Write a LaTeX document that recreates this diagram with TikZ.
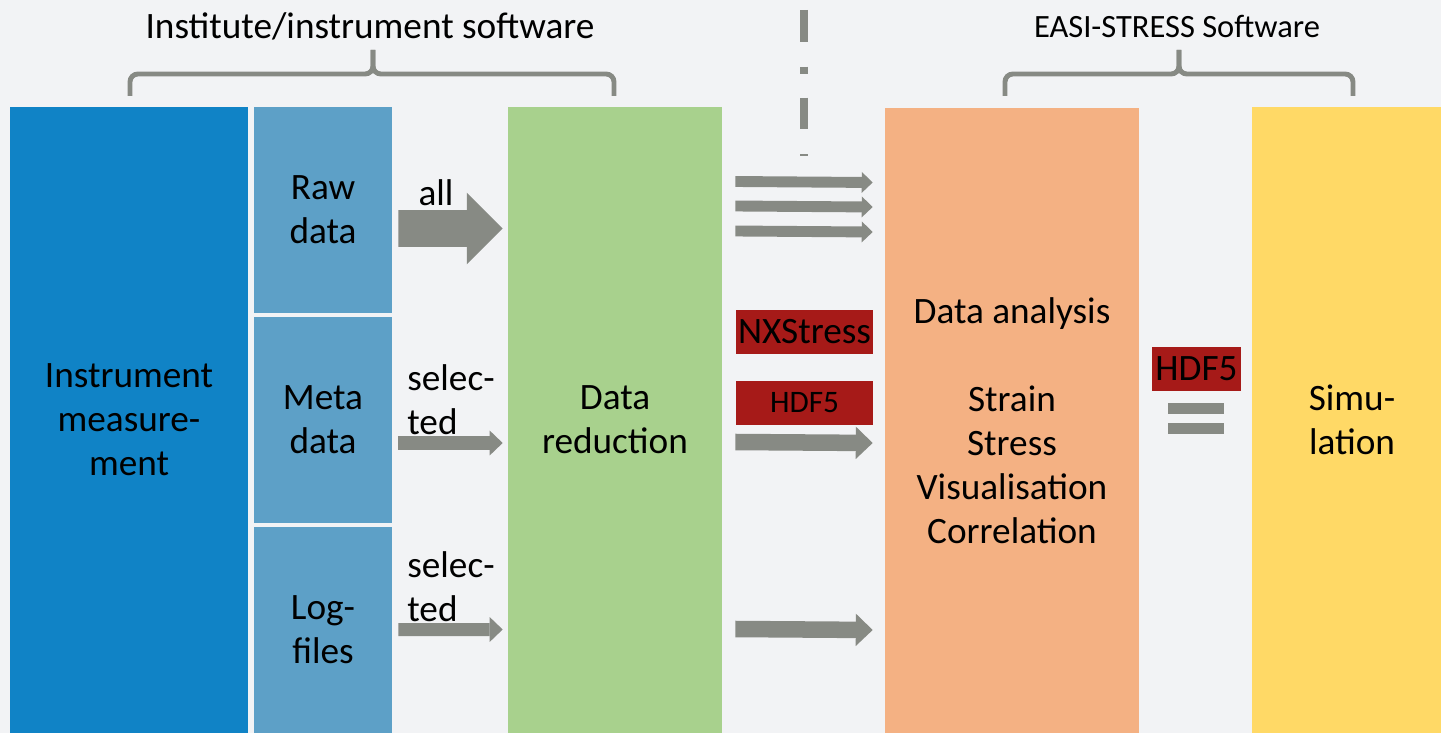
\documentclass[tikz,border=0pt]{standalone}
\usepackage{fontspec}
\setmainfont{Carlito}
\usepackage{tikz}
\usetikzlibrary{arrows.meta}
\definecolor{instblue}{HTML}{1083C6}
\definecolor{fileblue}{HTML}{5DA0C7}
\definecolor{redgreen}{HTML}{A8D18D}
\definecolor{anaorange}{HTML}{F4B183}
\definecolor{simyellow}{HTML}{FFD966}
\definecolor{flowgray}{HTML}{878A84}
\definecolor{tagred}{HTML}{A61A18}
\definecolor{bggray}{HTML}{F2F3F5}
\newcommand{\boxfont}{\fontsize{21.2}{25}\selectfont}
\newcommand{\tagfont}{\fontsize{17.8}{21}\selectfont}
\newcommand{\headfont}{\fontsize{18.5}{22}\selectfont}

\begin{document}
\begin{tikzpicture}[x=0.02cm,y=-0.02cm,
    block/.style={fill=#1,inner sep=0pt,align=center,font=\boxfont},
    tag/.style={fill=tagred,inner sep=0pt,minimum width=2.74cm,minimum height=0.88cm},
    fatarrow/.style={flowgray,line width=21pt,-{Triangle[length=20.4pt,width=40.8pt,line width=0pt]}},
    midarrow/.style={flowgray,line width=7.4pt,-{Triangle[length=7.4pt,width=14.2pt,line width=0pt]}},
    thinarrow/.style={flowgray,line width=6.2pt,-{Triangle[length=6.2pt,width=11.9pt,line width=0pt]}},
    outarrow/.style={flowgray,line width=9.4pt,-{Triangle[length=9.6pt,width=18.4pt,line width=0pt]}},
    bracket/.style={flowgray,line width=2.8pt,rounded corners=4.5pt},
    label/.style={inner sep=0pt,font=\boxfont}]
  \useasboundingbox (0,0) rectangle (1441,733);
  \fill[bggray] (0,0) rectangle (1441,733);

  % headings and brackets
  \node[label] (insttitle) at (370,26) {Institute/instrument software};
  \node[label,font=\headfont] (easititle) at (1177,26) {EASI-STRESS Software};
  \draw[bracket] (130,96) -- (130,74) -- (373,74) -- (373,50);
  \draw[bracket] (614,96) -- (614,74) -- (373,74) -- (373,50);
  \draw[bracket] (1005,96) -- (1005,74) -- (1179,74) -- (1179,50);
  \draw[bracket] (1353,96) -- (1353,74) -- (1179,74) -- (1179,50);
  \draw[flowgray,line width=4.5pt,dash pattern=on 18.1pt off 14.2pt on 4pt off 13.6pt] (804,10) -- (804,156);

  % columns
  \node[block=instblue,minimum width=4.76cm,minimum height=12.52cm] (instr) at (129,420) {Instrument\\measure-\\ment};
  \node[block=fileblue,minimum width=2.76cm,minimum height=4.12cm] (raw) at (323,210) {Raw\\data};
  \node[block=fileblue,minimum width=2.76cm,minimum height=4.12cm] (meta) at (323,420) {Meta\\data};
  \node[block=fileblue,minimum width=2.76cm,minimum height=4.12cm] (log) at (323,630) {Log-\\files};
  \node[block=redgreen,minimum width=4.28cm,minimum height=12.52cm] (reduce) at (615,420) {Data\\reduction};
  \node[block=anaorange,minimum width=5.08cm,minimum height=12.52cm] (analysis) at (1012,421) {Data analysis\\[25pt]Strain\\Stress\\Visualisation\\Correlation};
  \node[block=simyellow,minimum width=4cm,minimum height=12.52cm] (sim) at (1352,420) {Simu-\\lation};

  % arrow labels
  \node[label] (alltxt) at (436,193) {all};
  \node[label,align=left,anchor=west] (metatxt) at (407,400) {selec-\\ted};
  \node[label,align=left,anchor=west] (logtxt) at (407,587) {selec-\\ted};
  \node[tag,font=\boxfont] (nxtag) at (804.5,332) {NXStress};
  \node[tag,font=\tagfont] (hdftag) at (804.5,403) {HDF5};
  \node[tag,font=\boxfont,minimum width=1.78cm,minimum height=0.9cm] (simtag) at (1196.5,369) {HDF5};
  \fill[flowgray] (1168,403) rectangle (1224,414);
  \fill[flowgray] (1168,423) rectangle (1224,434);

  % arrows into data reduction
  \draw[fatarrow] ([shift={(6,18.5)}]raw.east) -- ([shift={(-5,-191.5)}]reduce.west);
  \draw[midarrow] ([shift={(6,23)}]meta.east) -- ([shift={(-5,23)}]reduce.west);
  \draw[midarrow] ([shift={(6,-0.5)}]log.east) -- ([shift={(-5,209.5)}]reduce.west);

  % arrows into data analysis
  \draw[thinarrow] ([shift={(13,-238.5)}]reduce.east) -- ([shift={(-12,-238.5)}]analysis.west);
  \draw[thinarrow] ([shift={(13,-214)}]reduce.east) -- ([shift={(-12,-214)}]analysis.west);
  \draw[thinarrow] ([shift={(13,-189)}]reduce.east) -- ([shift={(-12,-189)}]analysis.west);
  \draw[outarrow] ([shift={(13,22)}]reduce.east) -- ([shift={(-12,22)}]analysis.west);
  \draw[outarrow] ([shift={(13,209)}]reduce.east) -- ([shift={(-12,209)}]analysis.west);
\end{tikzpicture}
\end{document}
